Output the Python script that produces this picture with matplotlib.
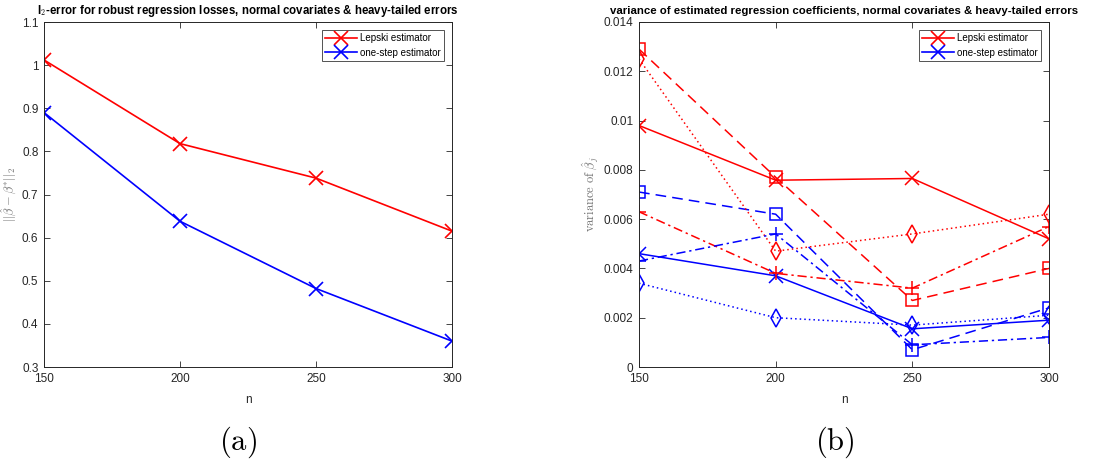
import numpy as np
import matplotlib
matplotlib.use("Agg")
import matplotlib.pyplot as plt

plt.rcParams['font.family'] = ['Liberation Sans', 'DejaVu Sans']
plt.rcParams['mathtext.fontset'] = 'cm'

# data
n = [150, 200, 250, 300]

# (a) l2-error
err_lepski = [1.012, 0.818, 0.738, 0.615]
err_onestep = [0.890, 0.638, 0.482, 0.360]

# (b) variance of coefficients, one series per coefficient
var_lepski = {
    'x': [0.0098, 0.00758, 0.00765, 0.0052],
    's': [0.0129, 0.0077, 0.0027, 0.0040],
    'd': [0.0125, 0.0047, 0.0054, 0.0062],
    '+': [0.0063, 0.0038, 0.0032, 0.0057],
}
var_onestep = {
    'x': [0.0046, 0.0037, 0.00155, 0.0019],
    's': [0.0071, 0.0062, 0.0007, 0.0024],
    'd': [0.0034, 0.0020, 0.0017, 0.0021],
    '+': [0.0043, 0.0054, 0.0009, 0.0012],
}
styles = {'x': '-', 's': (0, (7, 4)), 'd': (0, (1, 2)), '+': (0, (6, 2.5, 1.5, 2.5))}
sizes = {'x': 10, 's': 8.5, 'd': 9, '+': 10}

txt = '0.15'
fig = plt.figure(figsize=(11.17, 4.66), dpi=100)
W, H = 1117, 466
ax1 = fig.add_axes([44 / W, 1 - 367 / H, (452 - 44) / W, (367 - 22) / H])
ax2 = fig.add_axes([639 / W, 1 - 367 / H, (1049 - 639) / W, (367 - 22) / H])

def style_ax(ax):
    ax.tick_params(direction='in', top=True, right=True, labelsize=8.5, colors=txt,
                   length=4, width=0.6, pad=4)
    for s in ax.spines.values():
        s.set_color(txt)
        s.set_linewidth(0.7)
    ax.set_xlim(150, 300)
    ax.set_xticks(n)

def add_legend(ax, handles):
    leg = ax.legend(handles, ['Lepski estimator', 'one-step estimator'], loc='upper right',
                    fontsize=7, fancybox=False, edgecolor=txt, handlelength=3.3,
                    handletextpad=0.3, borderpad=0.35, labelspacing=0.45,
                    borderaxespad=0.8)
    leg.get_frame().set_linewidth(0.7)

# (a)
l1, = ax1.plot(n, err_lepski, 'r-x', lw=1.2, ms=10, mew=1.2)
l2, = ax1.plot(n, err_onestep, 'b-x', lw=1.2, ms=10, mew=1.2)
style_ax(ax1)
ax1.set_ylim(0.3, 1.1)
ax1.set_yticks(np.arange(0.3, 1.11, 0.1))
ax1.set_yticklabels(['0.3', '0.4', '0.5', '0.6', '0.7', '0.8', '0.9', '1', '1.1'])
ax1.set_xlabel('n', fontsize=8.5, color=txt, labelpad=7)
ax1.set_ylabel(r'$||\hat{\beta}-\beta^{*}||_2$', fontsize=9, color='0.45', labelpad=2)
ax1.set_title(r'l$_\mathbf{2}$-error for robust regression losses, normal covariates & heavy-tailed errors',
              fontsize=8.3, fontweight='bold', pad=6)
add_legend(ax1, [l1, l2])

# (b)
for m in ['x', 's', 'd', '+']:
    ax2.plot(n, var_lepski[m], color='r', ls=styles[m], marker=m, mfc='none', ms=sizes[m],
             mew=1.1, lw=1.1)
    ax2.plot(n, var_onestep[m], color='b', ls=styles[m], marker=m, mfc='none', ms=sizes[m],
             mew=1.1, lw=1.1)
style_ax(ax2)
ax2.set_ylim(0, 0.014)
ax2.set_yticks(np.arange(0, 0.0141, 0.002))
ax2.set_yticklabels(['0', '0.002', '0.004', '0.006', '0.008', '0.01', '0.012', '0.014'])
ax2.set_xlabel('n', fontsize=8.5, color=txt, labelpad=7)
ax2.set_ylabel(r'$\mathrm{variance\ of\ }\hat{\beta}_j$', fontsize=9, color='0.45', labelpad=2)
ax2.set_title('variance of estimated regression coefficients, normal covariates & heavy-tailed errors',
              fontsize=8.2, fontweight='bold', pad=6)
h1, = ax2.plot([], [], 'r-x', lw=1.2, ms=10, mew=1.2)
h2, = ax2.plot([], [], 'b-x', lw=1.2, ms=10, mew=1.2)
add_legend(ax2, [h1, h2])

fig.text(238 / W, 1 - 442 / H, r'$\mathrm{(a)}$', fontsize=22, ha='center', va='center')
fig.text(835 / W, 1 - 442 / H, r'$\mathrm{(b)}$', fontsize=22, ha='center', va='center')

fig.savefig('out.png', dpi=100)
